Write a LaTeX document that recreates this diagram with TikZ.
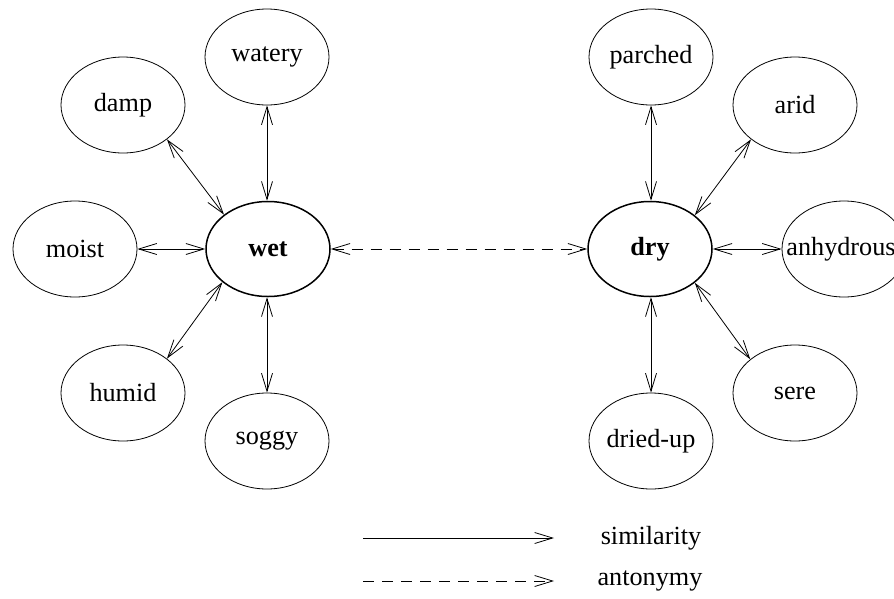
\documentclass[tikz,border=0pt]{standalone}
\usepackage{fontspec}
\setmainfont{Liberation Serif}
\usetikzlibrary{shapes.geometric,arrows.meta}
\newcommand{\nbox}[1]{\makebox[0pt]{#1}}
\tikzset{
  sat/.style={ellipse,draw,line width=0.8pt,inner sep=0pt,minimum width=124pt,minimum height=96pt,font=\fontsize{26.2}{28}\selectfont},
  hub/.style={ellipse,draw,line width=1.5pt,inner sep=0pt,minimum width=124pt,minimum height=95pt,font=\fontsize{26.2}{28}\selectfont\bfseries},
  lbl/.style={font=\fontsize{26.2}{28}\selectfont,inner sep=0pt},
  sim/.style={line width=0.8pt,{Straight Barb[length=18pt,width=11pt]}-{Straight Barb[length=18pt,width=11pt]}},
  simone/.style={line width=0.8pt,-{Straight Barb[length=18pt,width=11pt]}},
  ant/.style={line width=0.8pt,dash pattern=on 11pt off 8pt,{Straight Barb[length=18pt,width=11pt]}-{Straight Barb[length=18pt,width=11pt]}},
  antone/.style={line width=0.8pt,dash pattern=on 11pt off 8pt,-{Straight Barb[length=18pt,width=11pt]}}
}
\begin{document}
\begin{tikzpicture}[x=1pt,y=-1pt]
\useasboundingbox (0,0) rectangle (894,598);
% hubs
\node[hub] (wet) at (268,249) {\nbox{wet}};
\node[hub] (dry) at (650,249) {\nbox{dry}};
% wet satellites
\node[sat] (watery) at (267,57) {\nbox{watery}};
\node[sat] (damp) at (123,105) {\nbox{damp}};
\node[sat] (moist) at (75,249) {\nbox{moist}};
\node[sat] (humid) at (123,393) {\nbox{humid}};
\node[sat] (soggy) at (267,441) {\nbox{soggy}};
% dry satellites
\node[sat] (parched) at (651,57) {\nbox{parched}};
\node[sat] (arid) at (795,105) {\nbox{arid}};
\node[sat] (anhydrous) at (844,249) {\nbox{\hspace*{-6pt}anhydrous}};
\node[sat] (sere) at (795,393) {\nbox{sere}};
\node[sat] (driedup) at (651,441) {\nbox{dried-up}};
% connectors
\draw[sim] (watery.south) -- (wet.north -| watery.south);
\draw[sim] (soggy.north) -- (wet.south -| soggy.north);
\draw[sim] (moist.east) -- (wet.west);
\draw[sim] (damp.-38.5) -- (wet.142);
\draw[sim] (humid.38) -- (wet.216.5);
\draw[sim] (parched.south) -- (dry.north -| parched.south);
\draw[sim] (driedup.north) -- (dry.south -| driedup.north);
\draw[sim] (anhydrous.west) -- (dry.east);
\draw[sim] (arid.218) -- (dry.37);
\draw[sim] (sere.143) -- (dry.-37);
\draw[ant] (wet.east) -- (dry.west);
% legend
\coordinate (s0) at (363,538);
\coordinate (s1) at (554,538);
\coordinate (a0) at (363,581);
\coordinate (a1) at (554,581);
\draw[simone] (s0) -- (s1);
\draw[antone] (a0) -- (a1);
\node[lbl] (simtext) at (651,538) {similarity};
\node[lbl] (anttext) at (650,581) {antonymy};
\end{tikzpicture}
\end{document}
